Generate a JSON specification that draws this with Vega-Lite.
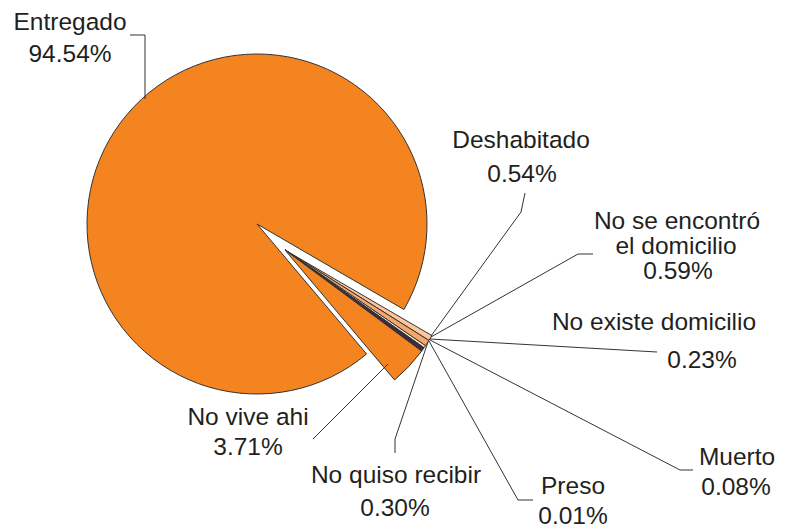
{
  "$schema": "https://vega.github.io/schema/vega-lite/v6.json",
  "width": 793,
  "height": 529,
  "autosize": "none",
  "padding": 0,
  "background": "white",
  "config": {"view": {"stroke": null}},
  "datasets": {
    "slices": [
      {"i": 1, "cat": "Deshabitado", "pct": 0.54},
      {"i": 2, "cat": "No se encontró el domicilio", "pct": 0.59},
      {"i": 3, "cat": "No existe domicilio", "pct": 0.23},
      {"i": 4, "cat": "Muerto", "pct": 0.08},
      {"i": 5, "cat": "Preso", "pct": 0.01},
      {"i": 6, "cat": "No quiso recibir", "pct": 0.30},
      {"i": 7, "cat": "No vive ahi", "pct": 3.71},
      {"i": 8, "cat": "Entregado", "pct": 94.54}
    ],
    "leaders": [
      {"id": "Entregado", "s": 1, "x": 130, "y": 35},
      {"id": "Entregado", "s": 2, "x": 145, "y": 35},
      {"id": "Entregado", "s": 3, "x": 145, "y": 99},
      {"id": "Deshabitado", "s": 1, "x": 431, "y": 336},
      {"id": "Deshabitado", "s": 2, "x": 521, "y": 212},
      {"id": "Deshabitado", "s": 3, "x": 525, "y": 193},
      {"id": "No se encontró", "s": 1, "x": 431, "y": 337},
      {"id": "No se encontró", "s": 2, "x": 578, "y": 254},
      {"id": "No se encontró", "s": 3, "x": 593, "y": 254},
      {"id": "No existe", "s": 1, "x": 430, "y": 339},
      {"id": "No existe", "s": 2, "x": 657, "y": 352},
      {"id": "Muerto", "s": 1, "x": 430, "y": 340},
      {"id": "Muerto", "s": 2, "x": 680, "y": 470},
      {"id": "Muerto", "s": 3, "x": 693, "y": 470},
      {"id": "Preso", "s": 1, "x": 429, "y": 341},
      {"id": "Preso", "s": 2, "x": 518, "y": 500},
      {"id": "Preso", "s": 3, "x": 533, "y": 500},
      {"id": "No quiso recibir", "s": 1, "x": 428, "y": 342},
      {"id": "No quiso recibir", "s": 2, "x": 395, "y": 439},
      {"id": "No quiso recibir", "s": 3, "x": 395, "y": 453},
      {"id": "No vive ahi", "s": 1, "x": 388, "y": 364},
      {"id": "No vive ahi", "s": 2, "x": 313, "y": 439}
    ],
    "labels": [
      {"t": "Entregado", "x": 70, "y": 30},
      {"t": "94.54%", "x": 70, "y": 62},
      {"t": "Deshabitado", "x": 521, "y": 148},
      {"t": "0.54%", "x": 522, "y": 182},
      {"t": "No se encontró", "x": 677, "y": 229},
      {"t": "el domicilio", "x": 676, "y": 254},
      {"t": "0.59%", "x": 678, "y": 279},
      {"t": "No existe domicilio", "x": 654, "y": 330},
      {"t": "0.23%", "x": 702, "y": 368},
      {"t": "Muerto", "x": 737, "y": 465},
      {"t": "0.08%", "x": 736, "y": 495},
      {"t": "Preso", "x": 573, "y": 494},
      {"t": "0.01%", "x": 573, "y": 524},
      {"t": "No quiso recibir", "x": 396, "y": 483},
      {"t": "0.30%", "x": 395, "y": 516},
      {"t": "No vive ahi", "x": 248, "y": 425},
      {"t": "3.71%", "x": 248, "y": 455}
    ]
  },
  "layer": [
    {
      "data": {"name": "slices"},
      "mark": {"type": "arc", "outerRadius": 170, "stroke": "#333333", "strokeWidth": 1},
      "encoding": {
        "x": {"datum": 257, "type": "quantitative", "scale": {"domain": [0, 793], "range": [0, 793]}, "axis": null},
        "y": {"datum": 224, "type": "quantitative", "scale": {"domain": [0, 529], "range": [0, 529]}, "axis": null},
        "theta": {"field": "pct", "type": "quantitative", "stack": true, "scale": {"range": [2.098, 8.381]}},
        "order": {"field": "i", "type": "quantitative"},
        "color": {
          "field": "cat", "type": "nominal", "legend": null,
          "scale": {
            "domain": ["Deshabitado", "No se encontró el domicilio", "No existe domicilio", "Muerto", "Preso", "No quiso recibir", "No vive ahi", "Entregado"],
            "range": ["#FCC59B", "#F6A76E", "#FFF5CC", "#7A4A2A", "#1E1E1E", "#4B2548", "#F4841F", "#F4841F"]
          }
        },
        "opacity": {"condition": {"test": "datum.cat === 'Entregado'", "value": 1}, "value": 0}
      }
    },
    {
      "data": {"name": "slices"},
      "mark": {"type": "arc", "outerRadius": 170, "stroke": "#333333", "strokeWidth": 1},
      "encoding": {
        "x": {"datum": 285, "type": "quantitative", "scale": {"domain": [0, 793], "range": [0, 793]}, "axis": null},
        "y": {"datum": 250, "type": "quantitative", "scale": {"domain": [0, 529], "range": [0, 529]}, "axis": null},
        "theta": {"field": "pct", "type": "quantitative", "stack": true, "scale": {"range": [2.098, 8.381]}},
        "order": {"field": "i", "type": "quantitative"},
        "color": {"field": "cat", "type": "nominal", "legend": null},
        "opacity": {"condition": {"test": "datum.cat === 'Entregado'", "value": 0}, "value": 1}
      }
    },
    {
      "data": {"name": "leaders"},
      "mark": {"type": "line", "stroke": "#333333", "strokeWidth": 1},
      "encoding": {
        "x": {"field": "x", "type": "quantitative", "scale": {"domain": [0, 793], "range": [0, 793]}, "axis": null},
        "y": {"field": "y", "type": "quantitative", "scale": {"domain": [0, 529], "range": [0, 529]}, "axis": null},
        "detail": {"field": "id"},
        "order": {"field": "s", "type": "quantitative"}
      }
    },
    {
      "data": {"name": "labels"},
      "mark": {"type": "text", "font": "Liberation Sans", "fontSize": 24.5, "align": "center", "baseline": "alphabetic", "color": "#231F20"},
      "encoding": {
        "x": {"field": "x", "type": "quantitative", "scale": {"domain": [0, 793], "range": [0, 793]}, "axis": null},
        "y": {"field": "y", "type": "quantitative", "scale": {"domain": [0, 529], "range": [0, 529]}, "axis": null},
        "text": {"field": "t"}
      }
    }
  ]
}
